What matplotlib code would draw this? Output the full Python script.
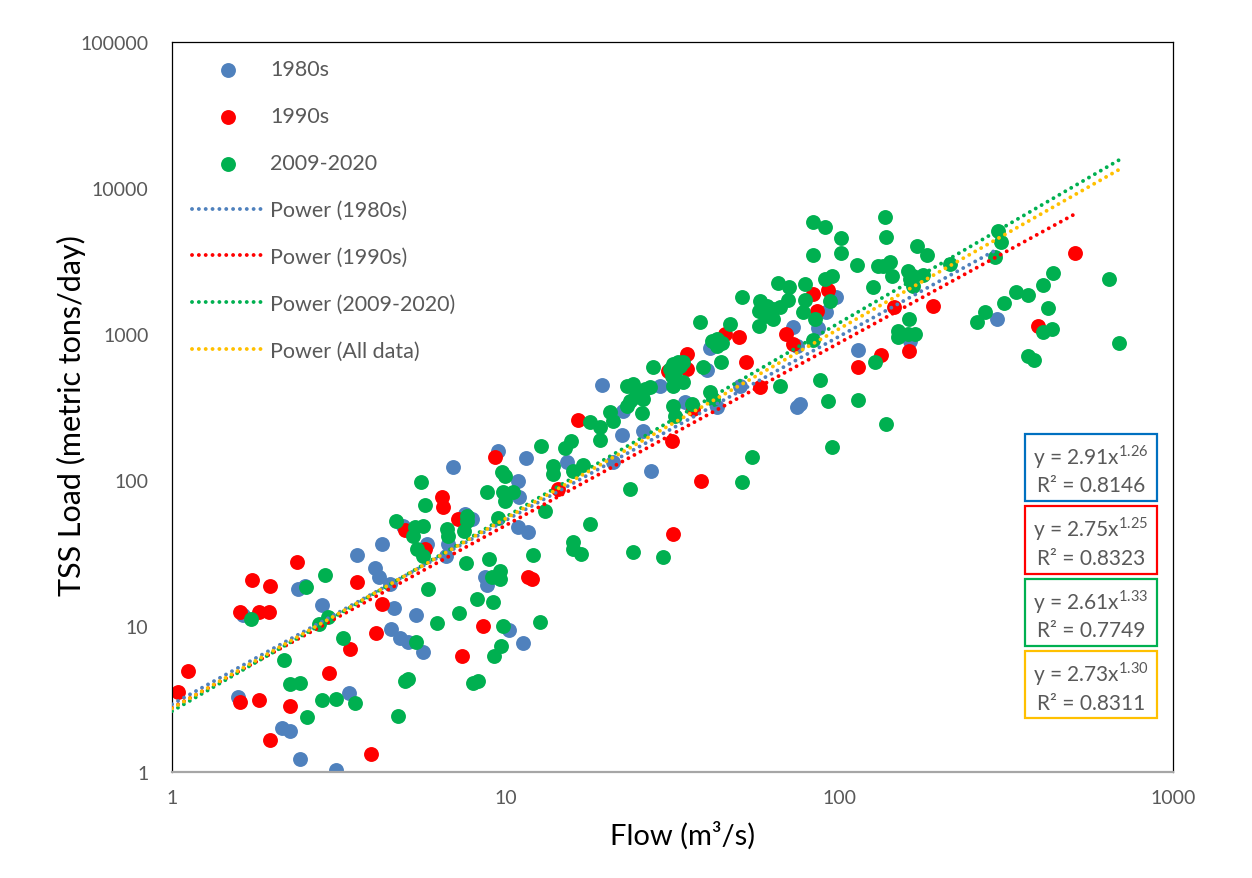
import numpy as np
import matplotlib.pyplot as plt
from matplotlib.patches import Rectangle

plt.rcParams['font.family'] = ['Lato', 'DejaVu Sans']

# ---- values (flow in m3/s, TSS load in metric tons/day) ----
flow_1980s = [3.58, 4.26, 4.06, 4.17, 2.39, 2.50, 2.82, 1.63, 1.58, 3.39, 2.14, 2.26, 2.42, 3.10,
              11.0, 10.9, 4.92, 5.81, 6.71, 6.62, 7.55, 7.93, 10.9, 11.7, 4.50, 8.67, 8.79,
              4.63, 5.39, 10.2, 4.53, 4.82, 5.10, 5.65, 11.3, 9.48, 11.5, 6.95, 15.3,
              41.0, 40.1, 29.0, 19.4, 22.5, 22.3, 25.8, 34.5, 43.0, 50.4, 21.0, 27.2,
              97.7, 91.2, 72.6, 86.3, 74.6, 163, 114, 76.2, 74.6, 297]
load_1980s = [30.6, 36.5, 24.9, 21.7, 17.9, 18.8, 13.9, 11.9, 3.26, 3.48, 2.00, 1.91, 1.23, 1.03,
              76.5, 98.4, 48.4, 36.5, 36.5, 30.1, 58.5, 54.1, 47.6, 44.0, 19.4, 21.7, 19.1,
              13.3, 11.9, 9.39, 9.53, 8.28, 7.77, 6.64, 7.65, 158, 141, 123, 133,
              802, 567, 440, 447, 297, 203, 217, 342, 316, 440, 133, 115,
              1792, 1415, 1117, 1099, 827, 895, 777, 332, 316, 1267]

flow_1990s = [2.37, 1.74, 1.97, 3.58, 1.60, 1.82, 1.95, 4.26, 4.09, 3.42, 1.12, 2.95, 1.04,
              1.60, 1.82, 2.26, 1.97, 3.95, 6.44, 6.49, 14.3, 4.99, 5.73, 7.19, 11.7, 12.0,
              8.55, 7.40, 38.5, 31.7, 16.5, 9.29, 45.4, 50.0, 34.9, 52.5, 34.9, 30.6, 36.4,
              57.8, 31.5, 83.4, 92.5, 85.7, 69.2, 72.6, 146, 191, 162, 133, 114, 508, 394]
load_1990s = [27.4, 20.7, 18.8, 20.0, 12.5, 12.5, 12.5, 14.2, 8.96, 6.96, 4.92, 4.76, 3.53,
              3.02, 3.11, 2.83, 1.66, 1.33, 76.5, 65.3, 86.8, 45.4, 33.7, 54.1, 21.7, 21.0,
              10.0, 6.23, 98.4, 42.7, 258, 144, 1000, 954, 729, 643, 576, 558, 306,
              433, 185, 1879, 2000, 1438, 1000, 855, 1531, 1556, 765, 718, 594, 3589, 1135]

flow_2009 = [2.52, 2.87, 1.72, 2.76, 2.93, 3.25, 2.17, 2.26, 2.42, 2.82, 3.10, 3.54, 2.54,
             5.57, 8.79, 9.82, 9.95, 10.5, 5.73, 13.1, 4.69, 5.35, 5.65, 5.27, 5.42, 5.65,
             6.67, 6.71, 7.66, 7.66, 7.50, 9.48, 12.1, 7.60, 8.91, 5.85, 9.10, 9.61, 9.61,
             8.20, 9.16, 7.25, 6.22, 9.82, 12.7, 5.39, 9.68, 9.22, 4.99, 5.10, 7.98, 8.26, 4.76,
             23.6, 51.1, 17.9, 15.9, 15.9, 16.8, 24.1, 29.6, 12.8, 15.1, 15.7, 13.9, 13.9, 15.9,
             9.75, 9.95, 65.5, 51.1, 57.8, 60.7, 57.4, 59.8, 63.2, 66.4, 63.2, 57.4, 38.2, 47.0,
             41.5, 43.0, 44.5, 43.0, 44.2, 27.6, 39.0, 31.7, 32.8, 31.1, 32.2, 33.3, 34.0, 31.5,
             34.0, 31.7, 23.1, 24.1, 27.1, 26.2, 25.3, 25.8, 24.4, 23.6, 23.1, 25.6, 20.5, 21.0,
             17.9, 19.2, 19.2, 31.7, 32.2, 36.2, 41.0, 41.8, 66.4, 17.1, 54.7,
             83.4, 90.6, 137, 101, 138, 83.4, 101, 171, 183, 113, 131, 142, 144, 135, 161, 166,
             178, 163, 166, 214, 70.6, 70.2, 78.9, 90.6, 95.0, 126, 93.7, 78.9, 77.8, 84.5,
             83.4, 162, 150, 150, 161, 169, 128, 87.5, 92.5, 114, 138, 95.0,
             299, 305, 293, 437, 643, 408, 338, 367, 311, 273, 258, 422, 408, 434, 689, 367, 383]
load_2009 = [18.5, 22.4, 11.2, 10.3, 11.5, 8.28, 5.85, 4.01, 4.07, 3.11, 3.16, 2.97, 2.38,
             96.9, 82.8, 82.8, 71.8, 82.8, 67.4, 61.3, 52.4, 47.6, 48.4, 41.3, 33.7, 30.1,
             46.2, 41.3, 56.7, 52.4, 44.7, 54.9, 30.6, 27.0, 28.8, 17.9, 21.7, 23.8, 21.0,
             15.3, 14.6, 12.3, 10.5, 10.0, 10.7, 7.77, 7.29, 6.23, 4.20, 4.33, 4.07, 4.20, 2.42,
             86.8, 96.9, 50.0, 37.6, 33.7, 31.1, 32.1, 29.7, 171, 166, 185, 125, 110, 115,
             113, 107, 2234, 1792, 1683, 1556, 1438, 1328, 1483, 1531, 1267, 1135, 1208, 1170,
             895, 924, 867, 827, 643, 594, 594, 623, 643, 576, 549, 604, 643, 516,
             469, 440, 440, 455, 433, 420, 376, 359, 370, 348, 321, 288, 292, 254,
             250, 231, 188, 321, 274, 332, 401, 359, 440, 127, 144,
             5848, 5408, 6326, 4546, 4615, 3475, 3589, 4009, 3475, 2971, 2924, 3112, 2496, 2924, 2702, 2496,
             2535, 2382, 2133, 3015, 2099, 1710, 2199, 2382, 2496, 2099, 1683, 1710, 1415, 1267,
             910, 1267, 1049, 954, 1000, 1000, 643, 484, 348, 353, 242, 168,
             5075, 4266, 3367, 2618, 2382, 2167, 1940, 1849, 1631, 1415, 1208, 1507, 1032, 1082, 867, 707, 663]

series_names = ["1980s", "1990s", "2009-2020"]
series_colors = ["#4F81BD", "#FF0000", "#00B050"]

# power trendlines y = a * x^b as printed on the chart
fit_names = ["Power (1980s)", "Power (1990s)", "Power (2009-2020)", "Power (All data)"]
fit_colors = ["#4F81BD", "#FF0000", "#00B050", "#FFC000"]
box_colors = ["#0070C0", "#FF0000", "#00B050", "#FFC000"]
fit_coef = [2.91, 2.75, 2.61, 2.73]
fit_exp = ["1.26", "1.25", "1.33", "1.30"]
fit_r2 = ["0.8146", "0.8323", "0.7749", "0.8311"]

x_ticks = [1, 10, 100, 1000]
y_ticks = [1, 10, 100, 1000, 10000, 100000]

gray = "#595959"

fig = plt.figure(figsize=(12.52, 8.79), dpi=100)
ax = fig.add_axes([0.1374, 0.1206, 0.7995, 0.8305])
ax.set_xscale("log")
ax.set_yscale("log")
ax.set_xlim(x_ticks[0], x_ticks[-1])
ax.set_ylim(y_ticks[0], y_ticks[-1])

flows = [flow_1980s, flow_1990s, flow_2009]
loads = [load_1980s, load_1990s, load_2009]

handles = []
for f, l, name, c in zip(flows, loads, series_names, series_colors):
    h = ax.scatter(f, l, s=115, color=c, linewidths=0, zorder=2, label=name)
    handles.append(h)

# trendlines start at the axis minimum and run to each series' largest flow
all_flow = flow_1980s + flow_1990s + flow_2009
fit_max = [max(flow_1980s), max(flow_1990s), max(flow_2009), max(all_flow)]
dot = (0, (0.01, 1.75))
for a, b, xmax, name, c in zip(fit_coef, fit_exp, fit_max, fit_names, fit_colors):
    xx = np.geomspace(x_ticks[0], xmax, 300)
    ln, = ax.plot(xx, a * xx ** float(b), color=c, lw=2.8, linestyle=dot,
                  dash_capstyle="round", zorder=3, label=name)
    handles.append(ln)

leg = ax.legend(handles=handles, loc="upper left", bbox_to_anchor=(0.011, 0.988),
                borderaxespad=0, frameon=False, fontsize=15.5, labelcolor=gray,
                handlelength=3.4, handletextpad=0.25, labelspacing=1.25, scatterpoints=1)

# equation boxes
box_w, box_h, box_step = 0.132, 0.0918, 0.0993
box_left, box_top = 0.852, 0.4630
for i in range(4):
    top = box_top - i * box_step
    ax.add_patch(Rectangle((box_left, top - box_h), box_w, box_h, transform=ax.transAxes,
                           facecolor="white", edgecolor=box_colors[i], lw=1.6, zorder=5))
    cx = box_left + box_w / 2
    ax.text(cx, top - 0.030, r"y = %.2fx$^{\mathregular{%s}}$" % (fit_coef[i], fit_exp[i]),
            transform=ax.transAxes, ha="center", va="center", fontsize=15, color=gray, zorder=6)
    ax.text(cx, top - 0.070, "R² = " + fit_r2[i], transform=ax.transAxes,
            ha="center", va="center", fontsize=15, color=gray, zorder=6)

ax.set_xticks(x_ticks)
ax.set_xticklabels([str(t) for t in x_ticks])
ax.set_yticks(y_ticks)
ax.set_yticklabels([str(t) for t in y_ticks])
ax.minorticks_off()
ax.tick_params(axis="both", which="both", length=0, labelsize=14, labelcolor=gray)
ax.tick_params(axis="x", pad=12)
ax.tick_params(axis="y", pad=17)

ax.set_xlabel("Flow (m³/s)", fontsize=21)
ax.set_ylabel("TSS Load (metric tons/day)", fontsize=22)
ax.xaxis.set_label_coords(0.51, -0.066)
ax.yaxis.set_label_coords(-0.086, 0.49)

for side in ["top", "left", "right"]:
    ax.spines[side].set_color("black")
    ax.spines[side].set_linewidth(0.9)
ax.spines["bottom"].set_color("#A6A6A6")
ax.spines["bottom"].set_linewidth(1.6)

fig.savefig("out.png", dpi=100)
